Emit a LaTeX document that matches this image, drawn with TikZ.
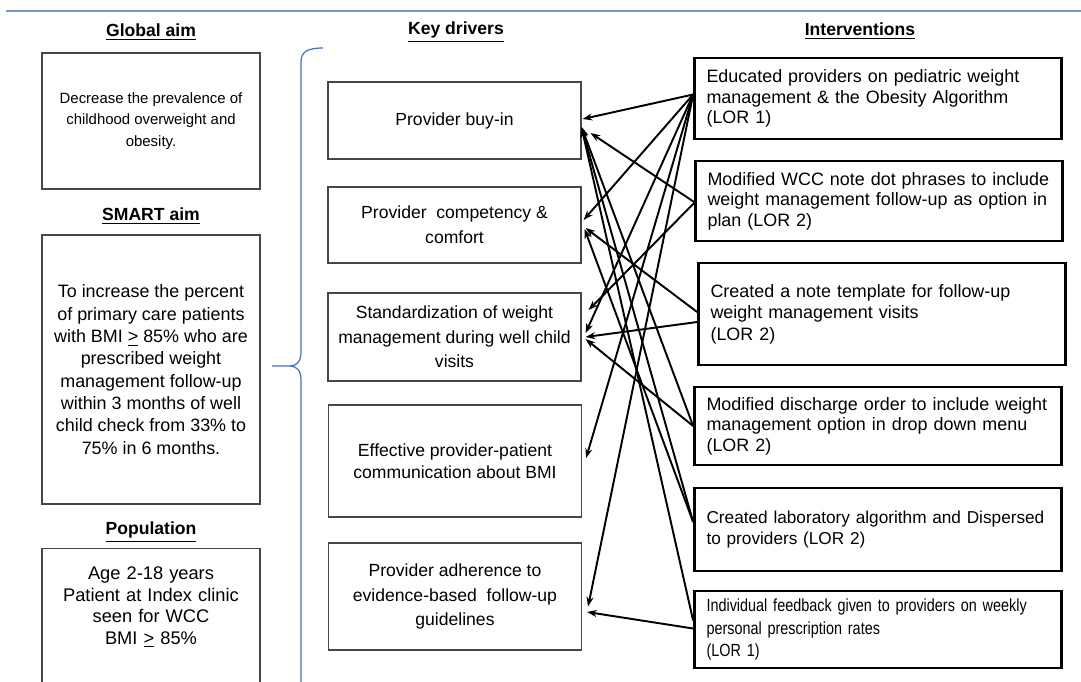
\documentclass[tikz,border=0pt]{standalone}
\usepackage{fontspec}
\setmainfont{Liberation Sans}
\newfontfamily\narrowfont[FakeStretch=0.82]{Liberation Sans}
\usetikzlibrary{arrows.meta}
\definecolor{ddblue}{RGB}{68,114,196}
\definecolor{ddgray}{RGB}{70,70,70}

\begin{document}
\begin{tikzpicture}[x=0.02cm,y=-0.02cm,every node/.style={font=\fontsize{10}{14}\selectfont},
    head/.style={font=\fontsize{10}{12}\selectfont\bfseries,inner sep=0pt},
    aim/.style={draw=ddgray,line width=0.8pt,minimum width=4.36cm,align=center},
    driver/.style={draw=ddgray,line width=0.7pt,minimum width=5.06cm,align=center},
    action/.style={draw,line width=1.6pt,text width=6.86cm,inner xsep=0.24cm,align=left,
                   font=\fontsize{10.2}{11.6}\selectfont},
    link/.style={-{Stealth[length=5.5pt,width=4pt]},line width=1.1pt}]
    \useasboundingbox (0,0) rectangle (1081,681);
    \draw[ddblue!75,line width=0.6pt] (6,11) -- (1081,11);
    % Headings
    \node[head] (hglob)  at (151,32)  {\underline{Global aim}};
    \node[head] (hsmart) at (151,216) {\underline{SMART aim}};
    \node[head] (hpop)   at (151,532) {\underline{Population}};
    \node[head] (hkey)   at (456,32)  {\underline{Key drivers}};
    \node[head] (hint)   at (860,31)  {\underline{Interventions}};
    % Aims
    \node[aim,minimum height=2.72cm,font=\fontsize{8.5}{12.2}\selectfont] (gaim) at (151,121)
      {Decrease the prevalence of\\childhood overweight and\\obesity.};
    \node[aim,minimum height=5.38cm,font=\fontsize{10.2}{12.7}\selectfont] (saim) at (151,369.5)
      {To increase the percent\\of primary care patients\\with BMI \underline{>} 85\% who are\\prescribed weight\\
       management follow-up\\within 3 months of well\\child check from 33\% to\\75\% in 6 months.};
    \node[aim,anchor=north,text width=4cm,inner ysep=0.36cm,text depth=3cm,
          font=\fontsize{10.4}{12.3}\selectfont] (pop) at (151,548)
      {Age 2-18 years\\Patient at Index clinic\\seen for WCC\\BMI \underline{>} 85\%};
    % Brace
    \draw[ddblue,line width=0.7pt] (323,48) .. controls (307,48) and (301,52) .. (301,62) -- (301,352)
      .. controls (301,361) and (297,366) .. (290,366) -- (272,366);
    \draw[ddblue,line width=0.7pt] (290,366) .. controls (297,366) and (301,371) .. (301,380) -- (301,700);
    % Key drivers
    \node[driver,minimum height=1.54cm] (kd1) at (454.5,120.5) {Provider buy-in};
    \node[driver,minimum height=1.52cm] (kd2) at (454.5,225)   {Provider\ \ competency \&\\comfort};
    \node[driver,minimum height=1.76cm] (kd3) at (454.5,337)   {Standardization of weight\\management during well child\\visits};
    \node[driver,minimum height=2.24cm,font=\fontsize{10}{12.5}\selectfont] (kd4) at (455,461)
      {Effective provider-patient\\communication about BMI};
    \node[driver,minimum height=2.14cm] (kd5) at (455,596.5) {Provider adherence to\\evidence-based\ \ follow-up\\guidelines};
    % Interventions
    \node[action,minimum height=1.62cm] (act1) at (878,98.5)
      {Educated providers on pediatric weight\\management \& the Obesity Algorithm\\(LOR 1)};
    \node[action,minimum height=1.6cm] (act2) at (879,201)
      {Modified WCC note dot phrases to include\\weight management follow-up as option in\\plan (LOR 2)};
    \node[action,minimum height=2.04cm,font=\fontsize{10.2}{12.2}\selectfont] (act3) at (882,314)
      {Created a note template for follow-up\\weight management visits\\(LOR 2)};
    \node[action,minimum height=1.56cm] (act4) at (878,426)
      {Modified discharge order to include weight\\management option in drop down menu\\(LOR 2)};
    \node[action,minimum height=1.66cm,font=\fontsize{9.8}{12}\selectfont] (act5) at (878,529.5)
      {Created laboratory algorithm and Dispersed\\to providers (LOR 2)};
    \node[action,minimum height=1.54cm,font=\narrowfont\fontsize{10}{12.8}\selectfont] (act6) at (878,629.5)
      {Individual feedback given to providers on weekly\\personal prescription rates\\(LOR 1)};
    % Links to key drivers
    \foreach \k/\dx/\dy in {kd1/1/-1.5,kd2/2/-5,kd3/4/-4,kd4/4/-3,kd5/6/10}
      {\draw[link] ([shift={(0,-4)}]act1.west) -- ([shift={(\dx,\dy)}]\k.east);}
    \draw[link] ([shift={(0,1)}]act2.west) -- ([shift={(9,12.5)}]kd1.east);
    \draw[link] ([shift={(0,2)}]act2.west) -- ([shift={(7,-27)}]kd3.east);
    \draw[link] ([shift={(0,-2)}]act3.west) -- ([shift={(4,3)}]kd2.east);
    \draw[link] ([shift={(0,8)}]act3.west) -- ([shift={(4,0)}]kd3.east);
    \draw[link] (act4.west) -- ([shift={(0,6.5)}]kd1.east);
    \draw[link] (act4.west) -- ([shift={(4,2)}]kd3.east);
    \draw[link] ([shift={(0,-7.5)}]act5.west) -- ([shift={(0,6.5)}]kd1.east);
    \draw[link] ([shift={(0,-7.5)}]act5.west) -- ([shift={(3,4)}]kd2.east);
    \draw[link] ([shift={(0,-9)}]act6.west) -- ([shift={(0,7)}]kd1.east);
    \draw[link] ([shift={(0,-1)}]act6.west) -- ([shift={(5,15.5)}]kd5.east);
\end{tikzpicture}
\end{document}
